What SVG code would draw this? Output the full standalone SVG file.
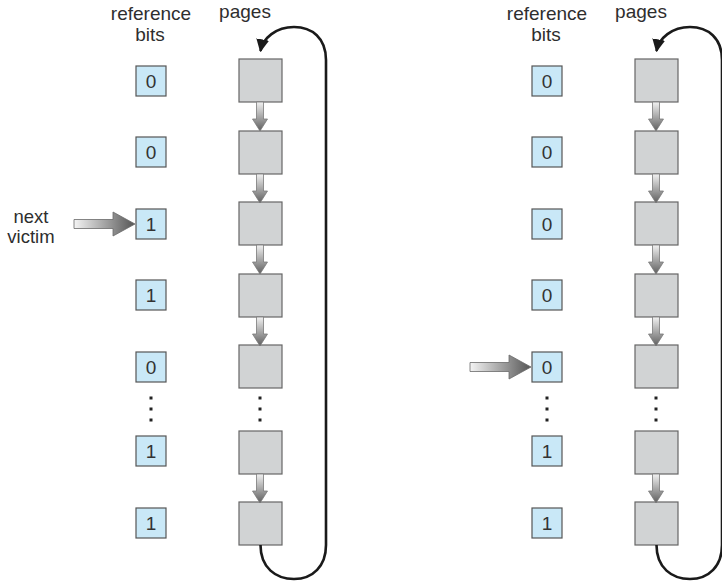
<svg xmlns="http://www.w3.org/2000/svg" width="722" height="581" viewBox="0 0 722 581">
  <defs>
    <linearGradient id="gradDown" x1="0" y1="0" x2="0" y2="1">
      <stop offset="0" stop-color="#f2f2f2"/>
      <stop offset="1" stop-color="#5e5e5e"/>
    </linearGradient>
    <linearGradient id="gradRight" x1="0" y1="0" x2="1" y2="0">
      <stop offset="0" stop-color="#f4f4f4"/>
      <stop offset="1" stop-color="#555555"/>
    </linearGradient>
    <marker id="loopHead" viewBox="0 0 10 10" refX="9" refY="5" markerWidth="5" markerHeight="5" orient="auto" markerUnits="strokeWidth">
      <path d="M0,0 L10,5 L0,10 z" fill="#1a1a1a"/>
    </marker>
    <!-- shaded link arrow: 7 wide shaft, 15 wide head, pointing down, origin at top centre -->
    <path id="linkArrow" d="M-3.5,0 H3.5 V17 H7.5 L0,29 L-7.5,17 H-3.5 Z"/>
    <!-- pointer arrow: points right, tip at origin -->
    <path id="pointer" d="M-61,-4.5 H-22 V-12 L0,0 L-22,12 V4.5 H-61 Z"/>
  </defs>
  <style>
    .label { font-family: "Liberation Sans", Arial, sans-serif; font-size: 19px; fill: #2e2e2e; text-anchor: middle; }
    .side { font-family: "Liberation Sans", Arial, sans-serif; font-size: 18.5px; fill: #2e2e2e; text-anchor: middle; }
    .bit rect { fill: #c9e8f7; stroke: #555; stroke-width: 1.2; }
    .bit text { font-family: "Liberation Sans", Arial, sans-serif; font-size: 19px; fill: #333; text-anchor: middle; }
    .page rect { fill: #d1d3d4; stroke: #666; stroke-width: 1.2; }
    .link { fill: url(#gradDown); stroke: #7a7a7a; stroke-width: 0.8; }
    .ptr { fill: url(#gradRight); stroke: #6a6a6a; stroke-width: 0.8; }
    .loop { fill: none; stroke: #1a1a1a; stroke-width: 2.6; }
    .dot { fill: #222; }
  </style>

  <!-- ===== Left clock: before the hand moves ===== -->
  <g id="left-headers">
    <text class="label" x="151" y="20">reference</text>
    <text class="label" x="150" y="41">bits</text>
    <text class="label" x="245" y="18">pages</text>
    <text class="side" x="31" y="223">next</text>
    <text class="side" x="31" y="243">victim</text>
  </g>

  <g id="L-bit1" class="bit"><rect x="136" y="66" width="30" height="30"/><text x="151" y="88">0</text></g>
  <g id="L-bit2" class="bit"><rect x="136" y="137" width="30" height="30"/><text x="151" y="159">0</text></g>
  <g id="L-bit3" class="bit"><rect x="136" y="209" width="30" height="30"/><text x="151" y="231">1</text></g>
  <g id="L-bit4" class="bit"><rect x="136" y="280" width="30" height="30"/><text x="151" y="302">1</text></g>
  <g id="L-bit5" class="bit"><rect x="136" y="352" width="30" height="30"/><text x="151" y="374">0</text></g>
  <g id="L-bit6" class="bit"><rect x="136" y="436" width="30" height="30"/><text x="151" y="458">1</text></g>
  <g id="L-bit7" class="bit"><rect x="136" y="508" width="30" height="30"/><text x="151" y="530">1</text></g>

  <g id="L-page1" class="page"><rect x="239" y="59" width="43" height="43"/></g>
  <g id="L-page2" class="page"><rect x="239" y="131" width="43" height="43"/></g>
  <g id="L-page3" class="page"><rect x="239" y="202" width="43" height="43"/></g>
  <g id="L-page4" class="page"><rect x="239" y="274" width="43" height="43"/></g>
  <g id="L-page5" class="page"><rect x="239" y="345" width="43" height="43"/></g>
  <g id="L-page6" class="page"><rect x="239" y="431" width="43" height="43"/></g>
  <g id="L-page7" class="page"><rect x="239" y="502" width="43" height="43"/></g>

  <g id="L-ellipsis">
    <rect class="dot" x="149.5" y="396.5" width="3" height="3"/>
    <rect class="dot" x="149.5" y="407.5" width="3" height="3"/>
    <rect class="dot" x="149.5" y="418.5" width="3" height="3"/>
    <rect class="dot" x="258.5" y="396.5" width="3" height="3"/>
    <rect class="dot" x="258.5" y="407.5" width="3" height="3"/>
    <rect class="dot" x="258.5" y="418.5" width="3" height="3"/>
  </g>

  <g id="L-connectors">
    <use href="#linkArrow" class="link" x="260" y="102"/>
    <use href="#linkArrow" class="link" x="260" y="174"/>
    <use href="#linkArrow" class="link" x="260" y="245"/>
    <use href="#linkArrow" class="link" x="260" y="317"/>
    <use href="#linkArrow" class="link" x="260" y="474"/>
    <use href="#pointer" class="ptr" x="135" y="224"/>
    <path class="loop" marker-end="url(#loopHead)" d="M260.5,545 C260.5,568 276,579 294,579 C313,579 326,566 326,545 V60 C326,38 312,27 294,27 C276,27 263,38 260.5,51"/>
  </g>

  <!-- ===== Right clock: after the hand moves ===== -->
  <g id="right-headers">
    <text class="label" x="547" y="20">reference</text>
    <text class="label" x="546" y="41">bits</text>
    <text class="label" x="641" y="18">pages</text>
  </g>

  <g id="R-bit1" class="bit"><rect x="532" y="66" width="30" height="30"/><text x="547" y="88">0</text></g>
  <g id="R-bit2" class="bit"><rect x="532" y="137" width="30" height="30"/><text x="547" y="159">0</text></g>
  <g id="R-bit3" class="bit"><rect x="532" y="209" width="30" height="30"/><text x="547" y="231">0</text></g>
  <g id="R-bit4" class="bit"><rect x="532" y="280" width="30" height="30"/><text x="547" y="302">0</text></g>
  <g id="R-bit5" class="bit"><rect x="532" y="352" width="30" height="30"/><text x="547" y="374">0</text></g>
  <g id="R-bit6" class="bit"><rect x="532" y="436" width="30" height="30"/><text x="547" y="458">1</text></g>
  <g id="R-bit7" class="bit"><rect x="532" y="508" width="30" height="30"/><text x="547" y="530">1</text></g>

  <g id="R-page1" class="page"><rect x="635" y="59" width="43" height="43"/></g>
  <g id="R-page2" class="page"><rect x="635" y="131" width="43" height="43"/></g>
  <g id="R-page3" class="page"><rect x="635" y="202" width="43" height="43"/></g>
  <g id="R-page4" class="page"><rect x="635" y="274" width="43" height="43"/></g>
  <g id="R-page5" class="page"><rect x="635" y="345" width="43" height="43"/></g>
  <g id="R-page6" class="page"><rect x="635" y="431" width="43" height="43"/></g>
  <g id="R-page7" class="page"><rect x="635" y="502" width="43" height="43"/></g>

  <g id="R-ellipsis">
    <rect class="dot" x="545.5" y="396.5" width="3" height="3"/>
    <rect class="dot" x="545.5" y="407.5" width="3" height="3"/>
    <rect class="dot" x="545.5" y="418.5" width="3" height="3"/>
    <rect class="dot" x="654.5" y="396.5" width="3" height="3"/>
    <rect class="dot" x="654.5" y="407.5" width="3" height="3"/>
    <rect class="dot" x="654.5" y="418.5" width="3" height="3"/>
  </g>

  <g id="R-connectors">
    <use href="#linkArrow" class="link" x="656" y="102"/>
    <use href="#linkArrow" class="link" x="656" y="174"/>
    <use href="#linkArrow" class="link" x="656" y="245"/>
    <use href="#linkArrow" class="link" x="656" y="317"/>
    <use href="#linkArrow" class="link" x="656" y="474"/>
    <use href="#pointer" class="ptr" x="531" y="367"/>
    <path class="loop" marker-end="url(#loopHead)" d="M656.5,545 C656.5,568 672,579 690,579 C709,579 722,566 722,545 V60 C722,38 708,27 690,27 C672,27 659,38 656.5,51"/>
  </g>
</svg>
